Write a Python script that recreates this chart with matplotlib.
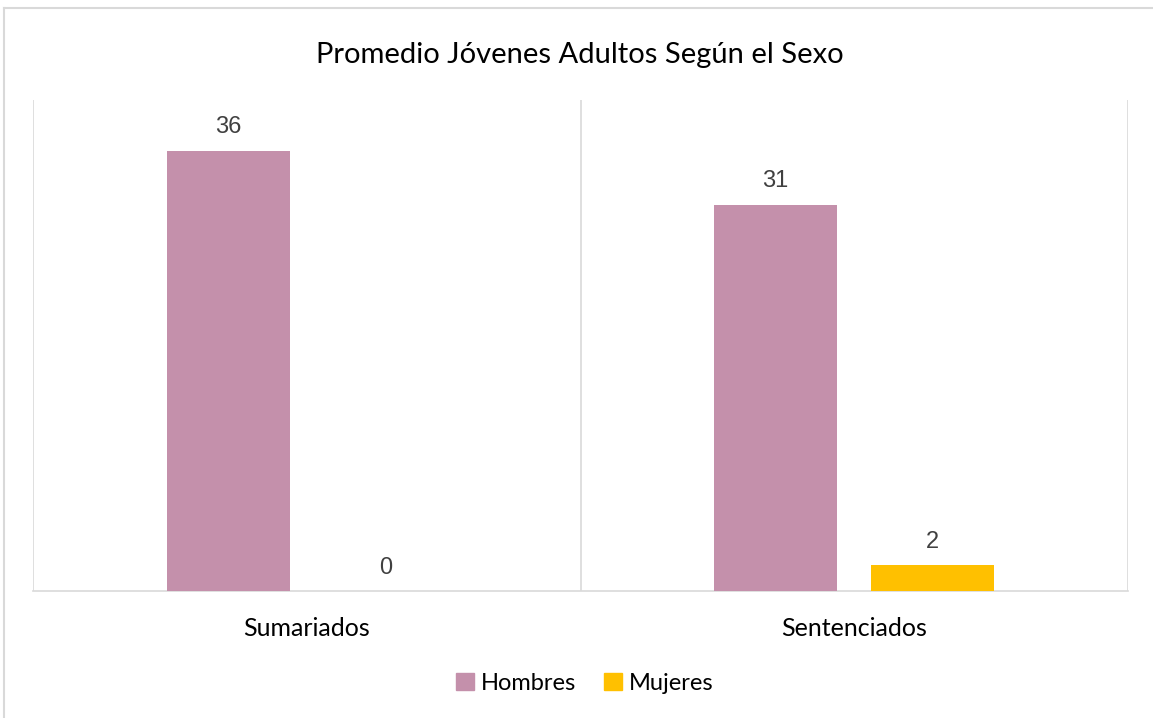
import matplotlib.pyplot as plt
from matplotlib.lines import Line2D
from matplotlib.patches import Patch
import numpy as np

categories = ['Sumariados', 'Sentenciados']
hombres = [35.85, 31.45]
mujeres = [0, 2.1]
series_names = ['Hombres', 'Mujeres']
colors = ['#C490AB', '#FFC000']

W, H = 1153, 718
fig = plt.figure(figsize=(W / 100, H / 100), dpi=100)
ax = fig.add_axes([33 / W, 1 - 591 / H, (1128 - 33) / W, (591 - 100) / H])

x = np.arange(len(categories))
off = 0.1435
bw = 0.225
b1 = ax.bar(x - off, hombres, bw, color=colors[0], zorder=3)
b2 = ax.bar(x + off, mujeres, bw, color=colors[1], zorder=3)

# data labels rounded like the original chart
for bars, vals in [(b1, hombres), (b2, mujeres)]:
    for rect, v in zip(bars, vals):
        ax.annotate('%d' % round(v), (rect.get_x() + rect.get_width() / 2, v),
                    xytext=(0, 9), textcoords='offset points',
                    ha='center', va='bottom', fontsize=17,
                    color='#404040', family='Liberation Sans')

ax.set_xlim(-0.5, 1.5)
ax.set_ylim(0, 40)
ax.set_yticks([])
ax.set_xticks(x)
ax.set_xticklabels(categories, fontsize=18, family='Lato', color='#000000')
ax.tick_params(axis='x', length=0, pad=19)
for xv in [-0.5, 0.5, 1.5]:
    ax.axvline(xv, color='#D9D9D9', lw=1.2, zorder=1)
for s in ['top', 'left', 'right']:
    ax.spines[s].set_visible(False)
ax.spines['bottom'].set_color('#D9D9D9')
ax.spines['bottom'].set_linewidth(1.2)

fig.text(580 / W, 1 - 55 / H, 'Promedio Jóvenes Adultos Según el Sexo',
         ha='center', va='center', fontsize=21, family='Lato')

handles = [Patch(color=c) for c in colors]
fig.legend(handles, series_names, loc='center', bbox_to_anchor=(585 / W, 1 - 683 / H),
           ncol=2, frameon=False, prop={'family': 'Lato', 'size': 17},
           handlelength=0.75, handleheight=0.75, handletextpad=0.3, columnspacing=1.2)

# outer chart border
fig.add_artist(Line2D([4 / W, 4 / W], [0, 1 - 8 / H], color='#D9D9D9', lw=1.5))
fig.add_artist(Line2D([4 / W, 1], [1 - 8 / H, 1 - 8 / H], color='#D9D9D9', lw=1.5))

fig.savefig('out.png', dpi=100)
